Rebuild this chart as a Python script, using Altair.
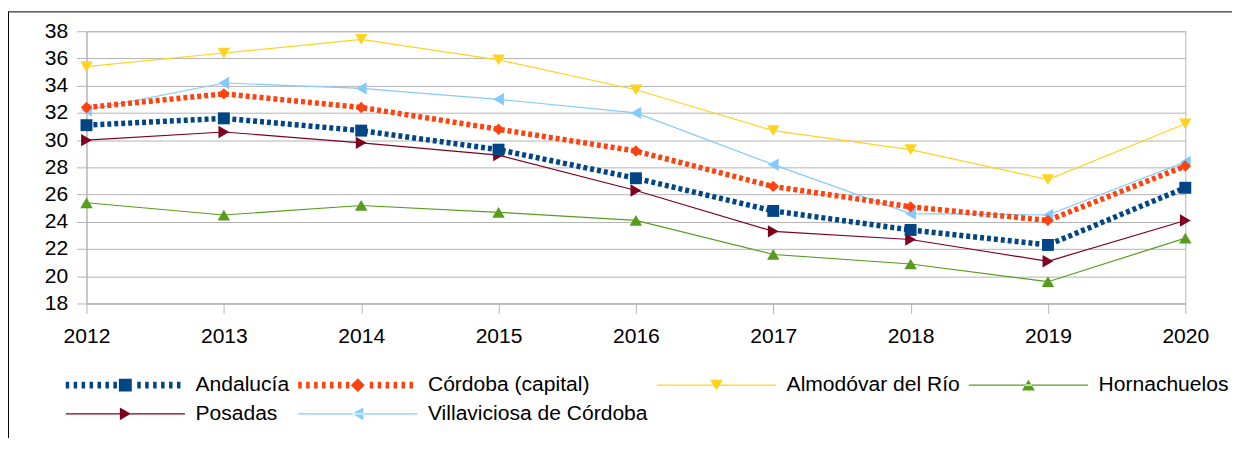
import altair as alt
import pandas as pd

years = ["2012", "2013", "2014", "2015", "2016", "2017", "2018", "2019", "2020"]
series = ["Andalucía", "Córdoba (capital)", "Almodóvar del Río", "Hornachuelos",
          "Posadas", "Villaviciosa de Córdoba"]
andalucia = [31.1, 31.6, 30.7, 29.3, 27.2, 24.8, 23.4, 22.3, 26.5]
cordoba = [32.4, 33.4, 32.4, 30.8, 29.2, 26.6, 25.1, 24.1, 28.1]
almodovar = [35.4, 36.4, 37.4, 35.9, 33.7, 30.7, 29.3, 27.1, 31.2]
hornachuelos = [25.4, 24.5, 25.2, 24.7, 24.1, 21.6, 20.9, 19.6, 22.8]
posadas = [30.0, 30.6, 29.8, 28.9, 26.3, 23.3, 22.7, 21.1, 24.1]
villaviciosa = [32.2, 34.2, 33.8, 33.0, 32.0, 28.2, 24.6, 24.5, 28.4]
y_ticks = [18, 20, 22, 24, 26, 28, 30, 32, 34, 36, 38]

colors = ["#004586", "#ff420e", "#ffd320", "#579d1c", "#7e0021", "#83caff"]
shapes = ["square", "diamond", "triangle-down", "triangle-up", "triangle-right", "triangle-left"]
sizes = [144, 130, 156, 156, 156, 156]
dotted = [True, True, False, False, False, False]

FONT = "Liberation Sans"
GRID = "#b3b3b3"
FS = 21.2

rows = []
for s, vals in zip(series, [andalucia, cordoba, almodovar, hornachuelos, posadas, villaviciosa]):
    for yr, v in zip(years, vals):
        rows.append({"year": yr, "series": s, "value": v})
df = pd.DataFrame(rows)

x_enc = alt.X("year:O", scale=alt.Scale(type="point", padding=0),
              axis=alt.Axis(title=None, labelAngle=0, grid=False, domainColor=GRID,
                            tickColor=GRID, tickSize=10, labelPadding=12,
                            labelFont=FONT, labelFontSize=FS, labelColor="#000000"))
y_enc = alt.Y("value:Q", scale=alt.Scale(domain=[18, 38], nice=False, zero=False),
              axis=alt.Axis(title=None, values=y_ticks, grid=True, gridColor=GRID,
                            domainColor=GRID, tickColor=GRID, tickSize=10, labelPadding=9,
                            labelFont=FONT, labelFontSize=FS, labelColor="#000000"))


# legend symbol geometry (pixels around the marker centre)
def dash_line():
    parts = []
    x0 = -60.0
    while x0 < 60:
        x1 = min(x0 + 3.5, 60.0)
        if x1 < -7.5 or x0 > 7.5:
            parts.append(f"M{x0},-3.5H{x1}V3.5H{x0}Z")
        x0 += 8
    return "".join(parts)


thin_line = "M-60,-0.7H60V0.7H-60Z"
legend_paths = [
    dash_line() + "M-6.5,-6.5H6.5V6.5H-6.5Z",
    dash_line() + "M0,-7L7,0L0,7L-7,0Z",
    thin_line + "M-6.5,-5.5H6.5L0,5.5Z",
    thin_line + "M-6.5,5.5H6.5L0,-5.5Z",
    thin_line + "M-5.5,-6.5L5.5,0L-5.5,6.5Z",
    thin_line + "M5.5,-6.5L-5.5,0L5.5,6.5Z",
]

layers = []
for i in reversed(range(len(series))):
    s = series[i]
    base = alt.Chart(df).transform_filter(alt.datum.series == s)
    if dotted[i]:
        line = base.mark_line(color=colors[i], strokeWidth=5.5, strokeDash=[4, 3], strokeCap="butt")
    else:
        line = base.mark_line(color=colors[i], strokeWidth=1.2)
    layers.append(line.encode(x=x_enc, y=y_enc))
for i in reversed(range(len(series))):
    s = series[i]
    base = alt.Chart(df).transform_filter(alt.datum.series == s)
    layers.append(base.mark_point(shape=shapes[i], filled=True, size=sizes[i], color=colors[i],
                                  opacity=1, strokeWidth=0).encode(x=x_enc, y=y_enc))

leg = alt.Legend(title=None, orient="none", direction="horizontal", legendX=-21, legendY=345.5,
                 columns=4, columnPadding=9, rowPadding=7, labelOffset=60, symbolOffset=49.5,
                 symbolSize=4, symbolStrokeWidth=0, labelFont=FONT, labelFontSize=FS,
                 labelColor="#000000", labelLimit=400, padding=0, offset=0)
legend_layer = alt.Chart(df).transform_filter("false").mark_point(
    filled=True, opacity=1, strokeWidth=0).encode(
    x=x_enc, y=y_enc,
    fill=alt.Fill("series:N", title=None, scale=alt.Scale(domain=series, range=colors), legend=leg),
    shape=alt.Shape("series:N", title=None, scale=alt.Scale(domain=series, range=legend_paths), legend=leg),
)
layers.append(legend_layer)

frame_df = pd.DataFrame({"k": [0]})
top_rule = alt.Chart(frame_df).mark_rule(color="#000000", strokeWidth=1).encode(
    x=alt.value(-79), x2=alt.value(1153), y=alt.value(-19.5))
left_rule = alt.Chart(frame_df).mark_rule(color="#000000", strokeWidth=1).encode(
    x=alt.value(-78.5), y=alt.value(-19.5), y2=alt.value(420))
layers += [top_rule, left_rule]

chart = alt.layer(*layers).properties(
    width=1106, height=274,
    autosize=alt.AutoSizeParams(type="none"),
    padding={"left": 79, "top": 22, "right": 47, "bottom": 134},
).configure_view(stroke=GRID)

chart.save("out.html", embed_options={"renderer": "svg", "actions": False})
